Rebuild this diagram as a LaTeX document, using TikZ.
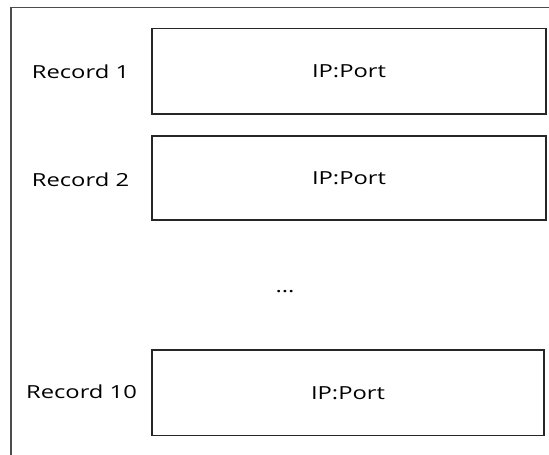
\documentclass[tikz,border=0pt]{standalone}
\usepackage{fontspec}
\setmainfont{Open Sans}
\begin{document}
\begin{tikzpicture}[x=1pt,y=-1pt,
  recbox/.style={draw=black!85,line width=1.3pt},
  lbl/.style={font=\fontsize{18}{20}\selectfont,xscale=1.32,inner sep=0pt},
  frame/.style={draw=black!70,line width=1.2pt}]
\useasboundingbox (0,0) rectangle (549,455);
% outer frame (top and left edges)
\coordinate (ftl) at (11,7.5);
\coordinate (ftr) at (549,7.5);
\coordinate (fbl) at (11,455);
\draw[frame] (ftr) -- (ftl) -- (fbl);
% record boxes
\draw[recbox] (152,28.5) rectangle (546,114) coordinate[pos=0.5] (b1);
\draw[recbox] (152,136) rectangle (546,220) coordinate[pos=0.5] (b2);
\draw[recbox] (152,350) rectangle (544,435.5) coordinate[pos=0.5] (b3);
\node[lbl] (v1) at (b1) {IP:Port};
\node[lbl] (v2) at (b2) {IP:Port};
\node[lbl] (v3) at (b3) {IP:Port};
\node[lbl] (r1) at (80.5,72) {Record 1};
\node[lbl] (r2) at (80.5,180) {Record 2};
\node[lbl] (r3) at (81.5,392) {Record 10};
\node[lbl] (dots) at (285,292) {...};
\end{tikzpicture}
\end{document}
